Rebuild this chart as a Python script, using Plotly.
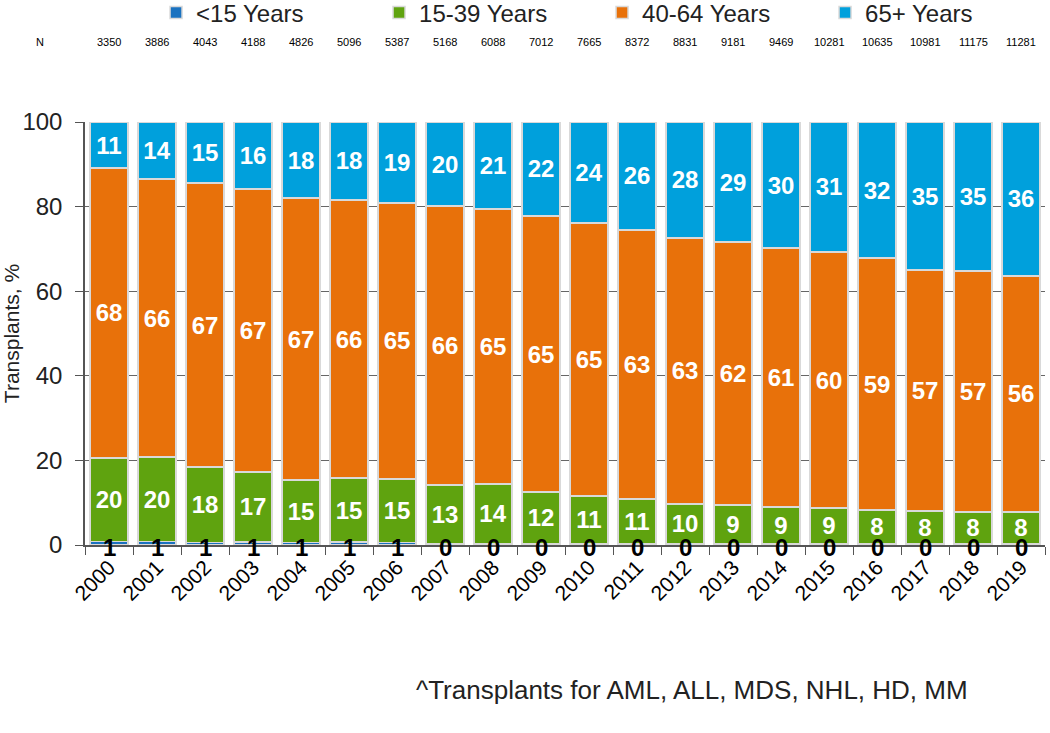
import plotly.graph_objects as go

years = [str(y) for y in range(2000, 2020)]
n_counts = [3350, 3886, 4043, 4188, 4826, 5096, 5387, 5168, 6088, 7012,
            7665, 8372, 8831, 9181, 9469, 10281, 10635, 10981, 11175, 11281]

# bar heights (% of transplants)
lt15 = [0.8, 0.8, 0.6, 0.7, 0.6, 0.7, 0.6, 0.4, 0.4, 0.4,
        0.3, 0.3, 0.3, 0.3, 0.3, 0.3, 0.3, 0.3, 0.3, 0.3]
a15_39 = [19.8, 20.0, 17.8, 16.6, 14.8, 15.1, 15.0, 13.8, 14.0, 12.1,
          11.3, 10.6, 9.4, 9.2, 8.7, 8.4, 8.0, 7.7, 7.5, 7.5]
a40_64 = [68.5, 65.7, 67.2, 66.9, 66.6, 65.8, 65.3, 65.9, 65.0, 65.3,
          64.5, 63.6, 62.9, 62.1, 61.2, 60.6, 59.5, 57.0, 57.0, 55.8]
a65 = [10.9, 13.5, 14.4, 15.8, 18.0, 18.4, 19.1, 19.9, 20.6, 22.2,
       23.9, 25.5, 27.4, 28.4, 29.8, 30.7, 32.2, 35.0, 35.2, 36.4]

# printed labels
lab_lt15 = [1, 1, 1, 1, 1, 1, 1, 0, 0, 0, 0, 0, 0, 0, 0, 0, 0, 0, 0, 0]
lab_15_39 = [20, 20, 18, 17, 15, 15, 15, 13, 14, 12, 11, 11, 10, 9, 9, 9, 8, 8, 8, 8]
lab_40_64 = [68, 66, 67, 67, 67, 66, 65, 66, 65, 65, 65, 63, 63, 62, 61, 60, 59, 57, 57, 56]
lab_65 = [11, 14, 15, 16, 18, 18, 19, 20, 21, 22, 24, 26, 28, 29, 30, 31, 32, 35, 35, 36]

FONT = "Liberation Sans, Arial, sans-serif"
C_LT15 = "#1a72c0"
C_1539 = "#5fa30f"
C_4064 = "#e8710a"
C_65 = "#00a0dc"
LINE = dict(color="#d9d9d9", width=1.5)
LABFONT = dict(color="white", size=24, family=FONT, weight="bold")

fig = go.Figure()
fig.add_trace(go.Bar(x=years, y=lt15, name="<15 Years", marker=dict(color=C_LT15, line=LINE)))
for vals, labs, nm, col in [(a15_39, lab_15_39, "15-39 Years", C_1539),
                            (a40_64, lab_40_64, "40-64 Years", C_4064),
                            (a65, lab_65, "65+ Years", C_65)]:
    fig.add_trace(go.Bar(x=years, y=vals, name=nm, marker=dict(color=col, line=LINE),
                         text=[str(v) for v in labs], textposition="inside",
                         insidetextanchor="middle", textangle=0, textfont=LABFONT,
                         constraintext="none"))

annotations = []
for i, lab in enumerate(lab_lt15):
    annotations.append(dict(x=i, y=0, xref="x", yref="y", text="<b>%d</b>" % lab,
                            showarrow=False, yanchor="middle", yshift=-2,
                            font=dict(size=24, color="black", family=FONT)))
for i, n in enumerate(n_counts):
    annotations.append(dict(x=i, y=1.189, xref="x", yref="paper", text=str(n),
                            showarrow=False, yanchor="middle",
                            font=dict(size=11, color="black", family=FONT)))
annotations.append(dict(x=-0.047, y=1.189, xref="paper", yref="paper", text="N",
                        showarrow=False, yanchor="middle", xanchor="center",
                        font=dict(size=11, color="black", family=FONT)))
annotations.append(dict(x=0.343, y=-0.343, xref="paper", yref="paper",
                        text="^Transplants for AML, ALL, MDS, NHL, HD, MM",
                        showarrow=False, xanchor="left", yanchor="middle",
                        font=dict(size=26, color="#222222", family=FONT)))

fig.update_layout(
    barmode="stack",
    bargap=0.2,
    width=1050, height=733,
    margin=dict(l=85, r=5, t=122, b=188, autoexpand=False),
    paper_bgcolor="white", plot_bgcolor="white",
    font=dict(family=FONT, color="#222222"),
    showlegend=True,
    legend=dict(orientation="h", x=0.074, xanchor="left", y=1.258, yref="paper",
                yanchor="middle", font=dict(size=24, color="#222222", family=FONT),
                entrywidth=178, entrywidthmode="pixels", itemwidth=30,
                traceorder="normal", bgcolor="rgba(0,0,0,0)"),
    annotations=annotations,
)
fig.update_xaxes(type="category", tickangle=-45, tickfont=dict(size=21, color="black", family=FONT),
                 showline=True, linecolor="#555555", linewidth=1.5,
                 ticks="outside", tickson="boundaries", ticklen=8, tickcolor="#555555",
                 showgrid=False, range=[-0.5, 19.5], automargin=False)
fig.update_yaxes(range=[0, 100], dtick=20, tickfont=dict(size=24, color="#222222", family=FONT),
                 title=dict(text="Transplants, %", font=dict(size=21, color="#222222", family=FONT),
                            standoff=8),
                 showline=True, linecolor="#555555", linewidth=1.5,
                 ticks="outside", ticklen=8, tickcolor="#555555", ticklabelstandoff=8,
                 showgrid=True, gridcolor="#666666", gridwidth=1, zeroline=False,
                 automargin=False)

fig.write_html("out.html", config={"displayModeBar": False},
               post_script="document.body.style.margin='0px';")
